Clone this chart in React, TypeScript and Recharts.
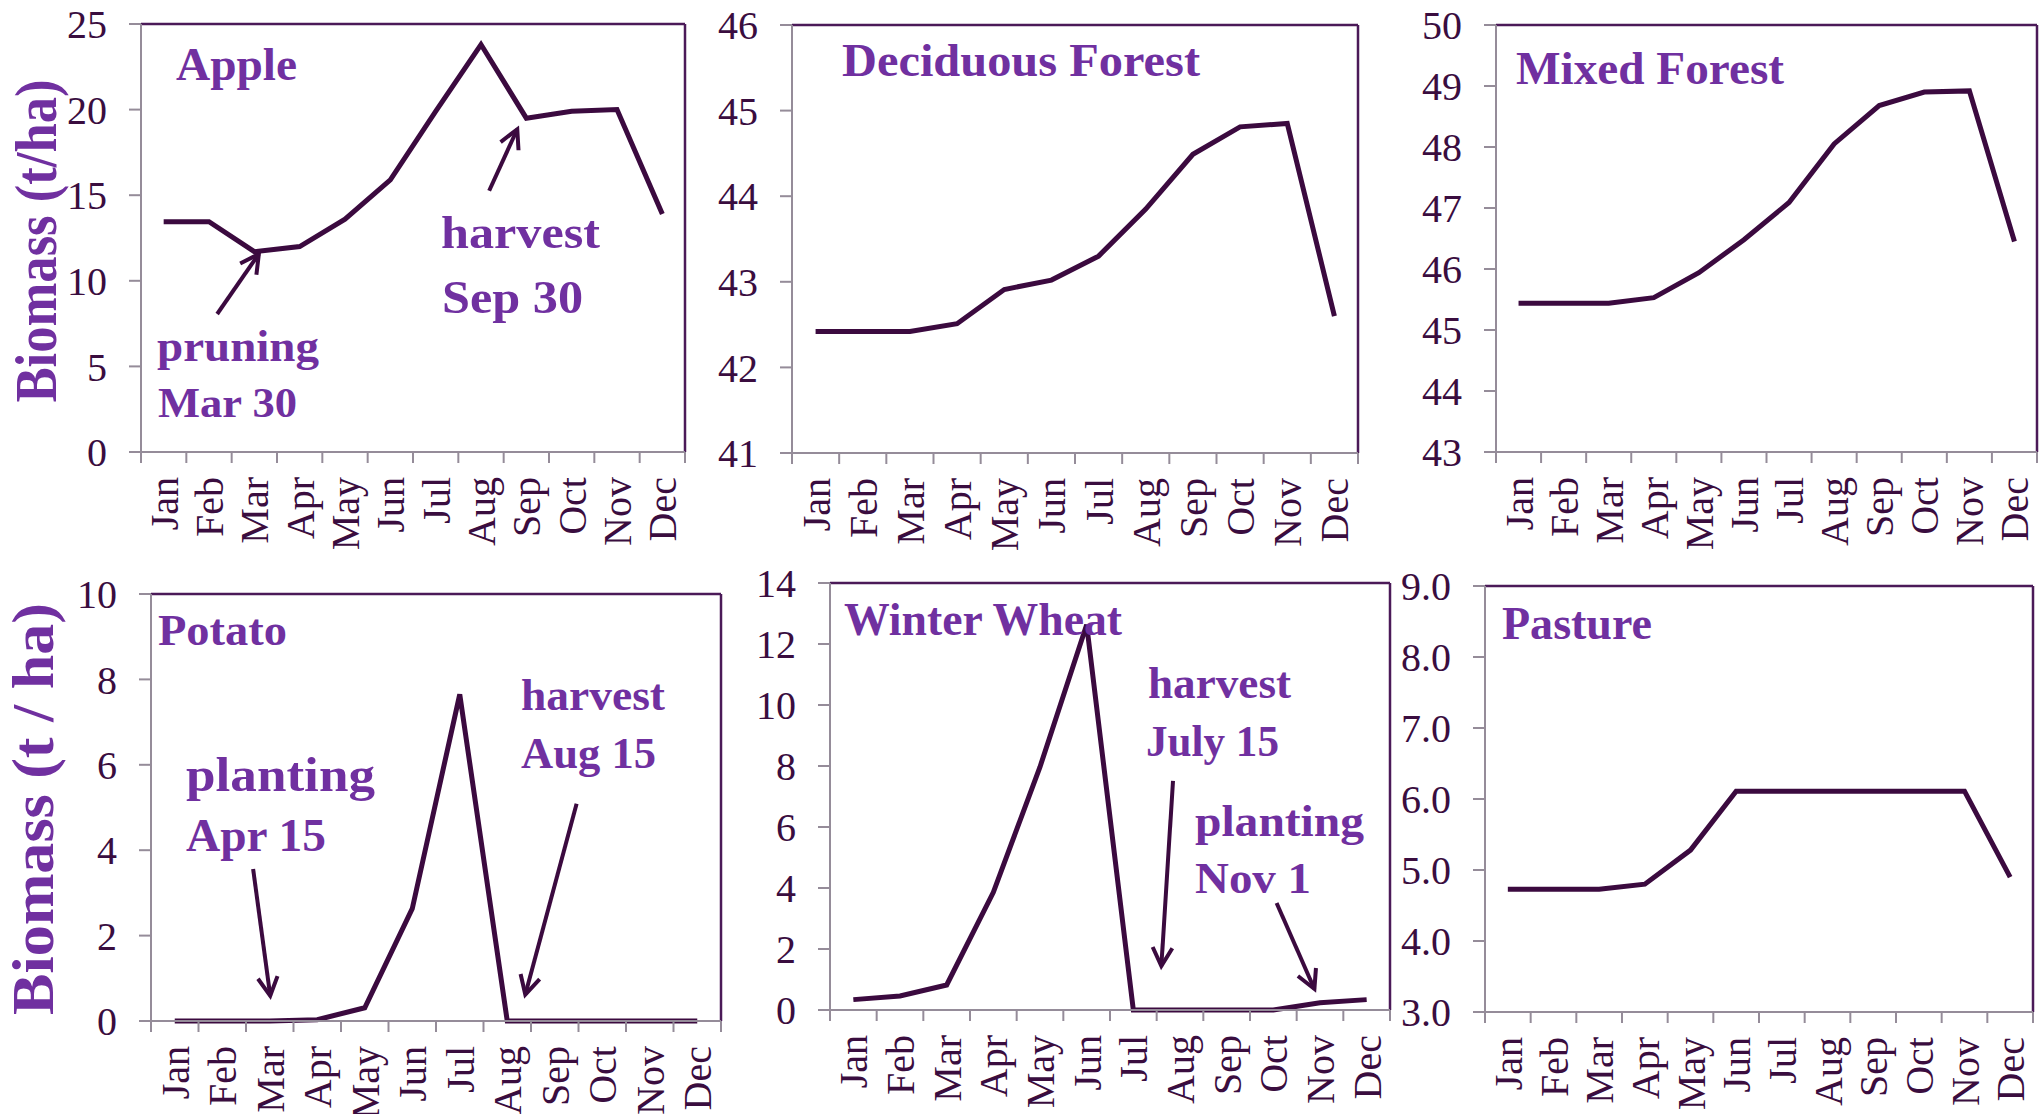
import React from "react";
import { LineChart, Line, XAxis, YAxis, ReferenceLine } from "recharts";

const MONTHS = ["Jan", "Feb", "Mar", "Apr", "May", "Jun", "Jul", "Aug", "Sep", "Oct", "Nov", "Dec"];

// biomass, t/ha
const APPLE = [13.45, 13.45, 11.7, 12.0, 13.6, 15.9, 19.9, 23.8, 19.5, 19.9, 20.0, 13.9];
const DECIDUOUS = [42.42, 42.42, 42.42, 42.51, 42.91, 43.02, 43.3, 43.85, 44.49, 44.81, 44.85, 42.6];
const MIXED = [45.44, 45.44, 45.44, 45.53, 45.94, 46.48, 47.09, 48.05, 48.68, 48.9, 48.92, 46.45];
const POTATO = [0, 0, 0, 0.03, 0.31, 2.63, 7.65, 0, 0, 0, 0, 0];
const WHEAT = [0.34, 0.46, 0.82, 3.86, 7.97, 12.63, 0, 0, 0, 0, 0.24, 0.34];
const PASTURE = [4.73, 4.73, 4.73, 4.8, 5.28, 6.11, 6.11, 6.11, 6.11, 6.11, 6.11, 4.9];

const APPLE_TICKS = [0, 5, 10, 15, 20, 25];
const DECIDUOUS_TICKS = [41, 42, 43, 44, 45, 46];
const MIXED_TICKS = [43, 44, 45, 46, 47, 48, 49, 50];
const POTATO_TICKS = [0, 2, 4, 6, 8, 10];
const WHEAT_TICKS = [0, 2, 4, 6, 8, 10, 12, 14];
const PASTURE_TICKS = [3, 4, 5, 6, 7, 8, 9];

// x ticks: integers are category boundaries, halves are the month centres
const X_TICKS = MONTHS.flatMap((_, i) => [i, i + 0.5]).concat(MONTHS.length);

const LINE = "#3b0a3f";
const TEXT = "#3a0d3f";
const PURPLE = "#7030a0";
const AXIS_GRAY = "#958c99";
const BORDER = "#4b1a58";
const SERIF = "'Liberation Serif', 'Times New Roman', serif";

const YW = 90;
const TOPM = 30;
const XH = 110;

type Arrow = { from: [number, number]; to: [number, number] };

const PANELS = [
  { key: "apple", values: APPLE, ticks: APPLE_TICKS, fmt: (v: number) => String(v), box: { l: 141, r: 685, t: 24, b: 452 },
    arrows: [{ from: [1.68, 8.06], to: [2.6, 11.57] }, { from: [7.68, 15.26], to: [8.3, 18.85] }] as Arrow[] },
  { key: "deciduous", values: DECIDUOUS, ticks: DECIDUOUS_TICKS, fmt: (v: number) => String(v), box: { l: 792, r: 1358, t: 25, b: 453 }, arrows: [] as Arrow[] },
  { key: "mixed", values: MIXED, ticks: MIXED_TICKS, fmt: (v: number) => String(v), box: { l: 1496, r: 2037, t: 25, b: 452 }, arrows: [] as Arrow[] },
  { key: "potato", values: POTATO, ticks: POTATO_TICKS, fmt: (v: number) => String(v), box: { l: 151, r: 721, t: 594, b: 1021 },
    arrows: [{ from: [2.15, 3.56], to: [2.51, 0.59] }, { from: [8.96, 5.09], to: [7.88, 0.62] }] as Arrow[] },
  { key: "wheat", values: WHEAT, ticks: WHEAT_TICKS, fmt: (v: number) => String(v), box: { l: 830, r: 1390, t: 583, b: 1010 },
    arrows: [{ from: [7.35, 7.51], to: [7.1, 1.44] }, { from: [9.57, 3.51], to: [10.38, 0.69] }] as Arrow[] },
  { key: "pasture", values: PASTURE, ticks: PASTURE_TICKS, fmt: (v: number) => v.toFixed(1), box: { l: 1485, r: 2033, t: 586, b: 1012 }, arrows: [] as Arrow[] },
];

// purple labels: start x, baseline y, width, font size
const TITLES = [
  { text: "Apple", x: 176, y: 80, w: 121, fs: 46 },
  { text: "Deciduous Forest", x: 842, y: 76, w: 358, fs: 46 },
  { text: "Mixed Forest", x: 1516, y: 84, w: 268, fs: 46 },
  { text: "Potato", x: 158, y: 645, w: 129, fs: 45 },
  { text: "Winter Wheat", x: 844, y: 635, w: 278, fs: 46 },
  { text: "Pasture", x: 1502, y: 639, w: 150, fs: 46 },
];

const NOTES = [
  { text: "pruning", x: 157, y: 361, w: 162, fs: 44 },
  { text: "Mar 30", x: 158, y: 417, w: 139, fs: 42 },
  { text: "harvest", x: 441, y: 248, w: 159, fs: 46 },
  { text: "Sep 30", x: 442, y: 313, w: 141, fs: 47 },
  { text: "planting", x: 186, y: 791, w: 189, fs: 48 },
  { text: "Apr 15", x: 186, y: 851, w: 140, fs: 47 },
  { text: "harvest", x: 521, y: 710, w: 144, fs: 44 },
  { text: "Aug 15", x: 521, y: 768, w: 135, fs: 45 },
  { text: "harvest", x: 1148, y: 698, w: 143, fs: 44 },
  { text: "July 15", x: 1146, y: 756, w: 133, fs: 44 },
  { text: "planting", x: 1195, y: 836, w: 169, fs: 44 },
  { text: "Nov 1", x: 1195, y: 893, w: 116, fs: 45 },
];

function MonthTick(props: any) {
  const { x, y, payload } = props;
  const v = payload.value;
  if (Number.isInteger(v)) {
    return <line x1={x} y1={y} x2={x} y2={y + 11} stroke={AXIS_GRAY} strokeWidth={2} />;
  }
  return (
    <text
      transform={`translate(${x},${y + 25}) rotate(-90)`}
      textAnchor="end"
      dy="0.35em"
      fontSize={40}
      fontFamily={SERIF}
      fill={TEXT}
    >
      {MONTHS[Math.floor(v)]}
    </text>
  );
}

function ArrowShape(props: any) {
  const { x1, y1, x2, y2 } = props;
  const ang = Math.atan2(y2 - y1, x2 - x1);
  const len = 21;
  const spread = (28 * Math.PI) / 180;
  const ax = x2 - len * Math.cos(ang - spread);
  const ay = y2 - len * Math.sin(ang - spread);
  const bx = x2 - len * Math.cos(ang + spread);
  const by = y2 - len * Math.sin(ang + spread);
  return (
    <g>
      <line x1={x1} y1={y1} x2={x2} y2={y2} stroke={LINE} strokeWidth={4} />
      <polyline points={`${ax},${ay} ${x2},${y2} ${bx},${by}`} fill="none" stroke={LINE} strokeWidth={4} />
    </g>
  );
}

function Panel({ panel }: { panel: (typeof PANELS)[number] }) {
  const { box, values, ticks, fmt } = panel;
  const data = MONTHS.map((m, i) => ({ x: i + 0.5, month: m, v: values[i] }));
  const lo = ticks[0];
  const hi = ticks[ticks.length - 1];
  const width = YW + (box.r - box.l) + 10;
  const height = TOPM + (box.b - box.t) + XH;
  return (
    <div style={{ position: "absolute", left: box.l - YW, top: box.t - TOPM, width, height }}>
      <LineChart width={width} height={height} data={data} margin={{ top: TOPM, right: 10, left: 0, bottom: 0 }}>
        <XAxis
          type="number"
          dataKey="x"
          domain={[0, 12]}
          ticks={X_TICKS}
          interval={0}
          tickLine={false}
          tickSize={0}
          tickMargin={0}
          height={XH}
          axisLine={{ stroke: AXIS_GRAY, strokeWidth: 2 }}
          tick={<MonthTick />}
        />
        <YAxis
          type="number"
          domain={[lo, hi]}
          ticks={ticks}
          interval={0}
          width={YW}
          tickSize={12}
          tickMargin={22}
          tickFormatter={fmt}
          axisLine={{ stroke: AXIS_GRAY, strokeWidth: 2 }}
          tickLine={{ stroke: AXIS_GRAY, strokeWidth: 2 }}
          tick={{ fill: TEXT, fontSize: 40, fontFamily: SERIF }}
        />
        <ReferenceLine y={hi} stroke={BORDER} strokeWidth={2.5} />
        <ReferenceLine x={12} stroke={BORDER} strokeWidth={2.5} />
        {panel.arrows.map((a, i) => (
          <ReferenceLine
            key={i}
            segment={[{ x: a.from[0], y: a.from[1] }, { x: a.to[0], y: a.to[1] }]}
            shape={(p: any) => <ArrowShape {...p} />}
          />
        ))}
        <Line
          type="linear"
          dataKey="v"
          stroke={LINE}
          strokeWidth={5}
          dot={false}
          activeDot={false}
          isAnimationActive={false}
        />
      </LineChart>
    </div>
  );
}

export default function App() {
  return (
    <div style={{ position: "absolute", left: 0, top: 0, width: 2042, height: 1114, overflow: "hidden", background: "#fff" }}>
      {PANELS.map((p) => (
        <Panel key={p.key} panel={p} />
      ))}
      <svg width={2042} height={1114} style={{ position: "absolute", left: 0, top: 0, pointerEvents: "none" }}>
        <text
          transform="translate(56,241) rotate(-90)"
          textAnchor="middle"
          fontSize={60}
          fontWeight="bold"
          fontFamily={SERIF}
          fill={PURPLE}
          textLength={323}
          lengthAdjust="spacingAndGlyphs"
        >
          Biomass (t/ha)
        </text>
        <text
          transform="translate(53,809) rotate(-90)"
          textAnchor="middle"
          fontSize={60}
          fontWeight="bold"
          fontFamily={SERIF}
          fill={PURPLE}
          textLength={412}
          lengthAdjust="spacingAndGlyphs"
        >
          Biomass (t / ha)
        </text>
        {TITLES.map((t) => (
          <text key={t.text} x={t.x} y={t.y} fontSize={t.fs} fontWeight="bold" fontFamily={SERIF} fill={PURPLE}
            textLength={t.w} lengthAdjust="spacingAndGlyphs">
            {t.text}
          </text>
        ))}
        {NOTES.map((n, i) => (
          <text key={i} x={n.x} y={n.y} fontSize={n.fs} fontWeight="bold" fontFamily={SERIF} fill={PURPLE}
            textLength={n.w} lengthAdjust="spacingAndGlyphs">
            {n.text}
          </text>
        ))}
      </svg>
    </div>
  );
}
